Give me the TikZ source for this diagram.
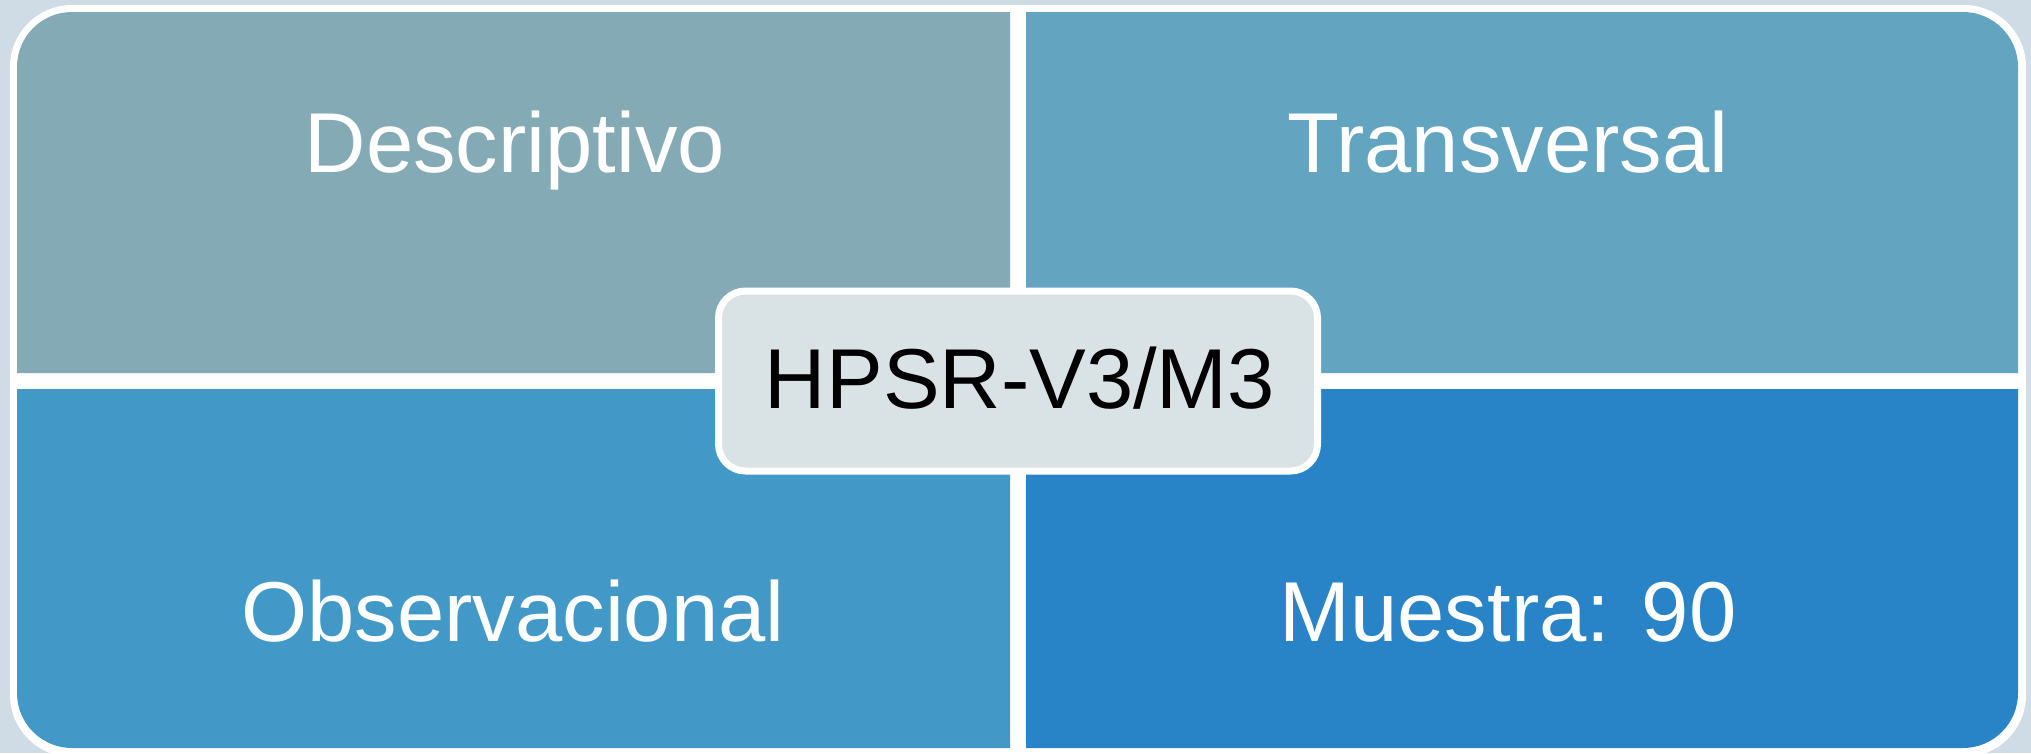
\documentclass[tikz,border=0pt]{standalone}
\usepackage{fontspec}
\setmainfont{Liberation Sans}
\definecolor{bgcol}{RGB}{207,219,229}
\definecolor{qtl}{RGB}{132,171,181}
\definecolor{qtr}{RGB}{99,164,192}
\definecolor{qbl}{RGB}{66,153,200}
\definecolor{qbr}{RGB}{40,132,198}
\definecolor{hubcol}{RGB}{217,226,229}
\tikzset{
  quadlabel/.style={anchor=base, text=white, inner sep=0pt,
    font=\fontsize{85}{100}\selectfont},
  hublabel/.style={anchor=base, text=black, inner sep=0pt,
    font=\fontsize{85}{100}\selectfont},
}
\begin{document}
\begin{tikzpicture}[x=1pt,y=-1pt]
  % canvas
  \fill[bgcol] (0,0) rectangle (2031,753);
  \useasboundingbox (0,0) rectangle (2031,753);
  % white frame behind the four quadrants
  \fill[white, rounded corners=62pt] (10,5) rectangle (2026,757);
  % quadrants, each rounded on its outer corner only
  \fill[qtl] (1010,373) -- (17,373) [rounded corners=55pt] -- (17,12) [sharp corners] -- (1010,12) -- cycle;
  \fill[qtr] (1026,373) -- (1026,12) [rounded corners=55pt] -- (2018,12) [sharp corners] -- (2018,373) -- cycle;
  \fill[qbl] (1010,389) -- (17,389) [rounded corners=55pt] -- (17,748) [sharp corners] -- (1010,748) -- cycle;
  \fill[qbr] (1026,389) -- (1026,748) [rounded corners=55pt] -- (2018,748) [sharp corners] -- (2018,389) -- cycle;
  % central hub
  \draw[white, line width=7pt, fill=hubcol, rounded corners=27pt] (718.5,291) rectangle (1317.5,471);
  % labels
  \node[quadlabel] (desc) at (515,172) {Descriptivo};
  \node[quadlabel] (trans) at (1508,172) {Transversal};
  \node[quadlabel] (obs) at (513,641) {Observacional};
  \node[quadlabel] (mues) at (1508,641) {Muestra: 90};
  \node[hublabel] (hub) at (1020,408) {HPSR-V3/M3};
\end{tikzpicture}
\end{document}
